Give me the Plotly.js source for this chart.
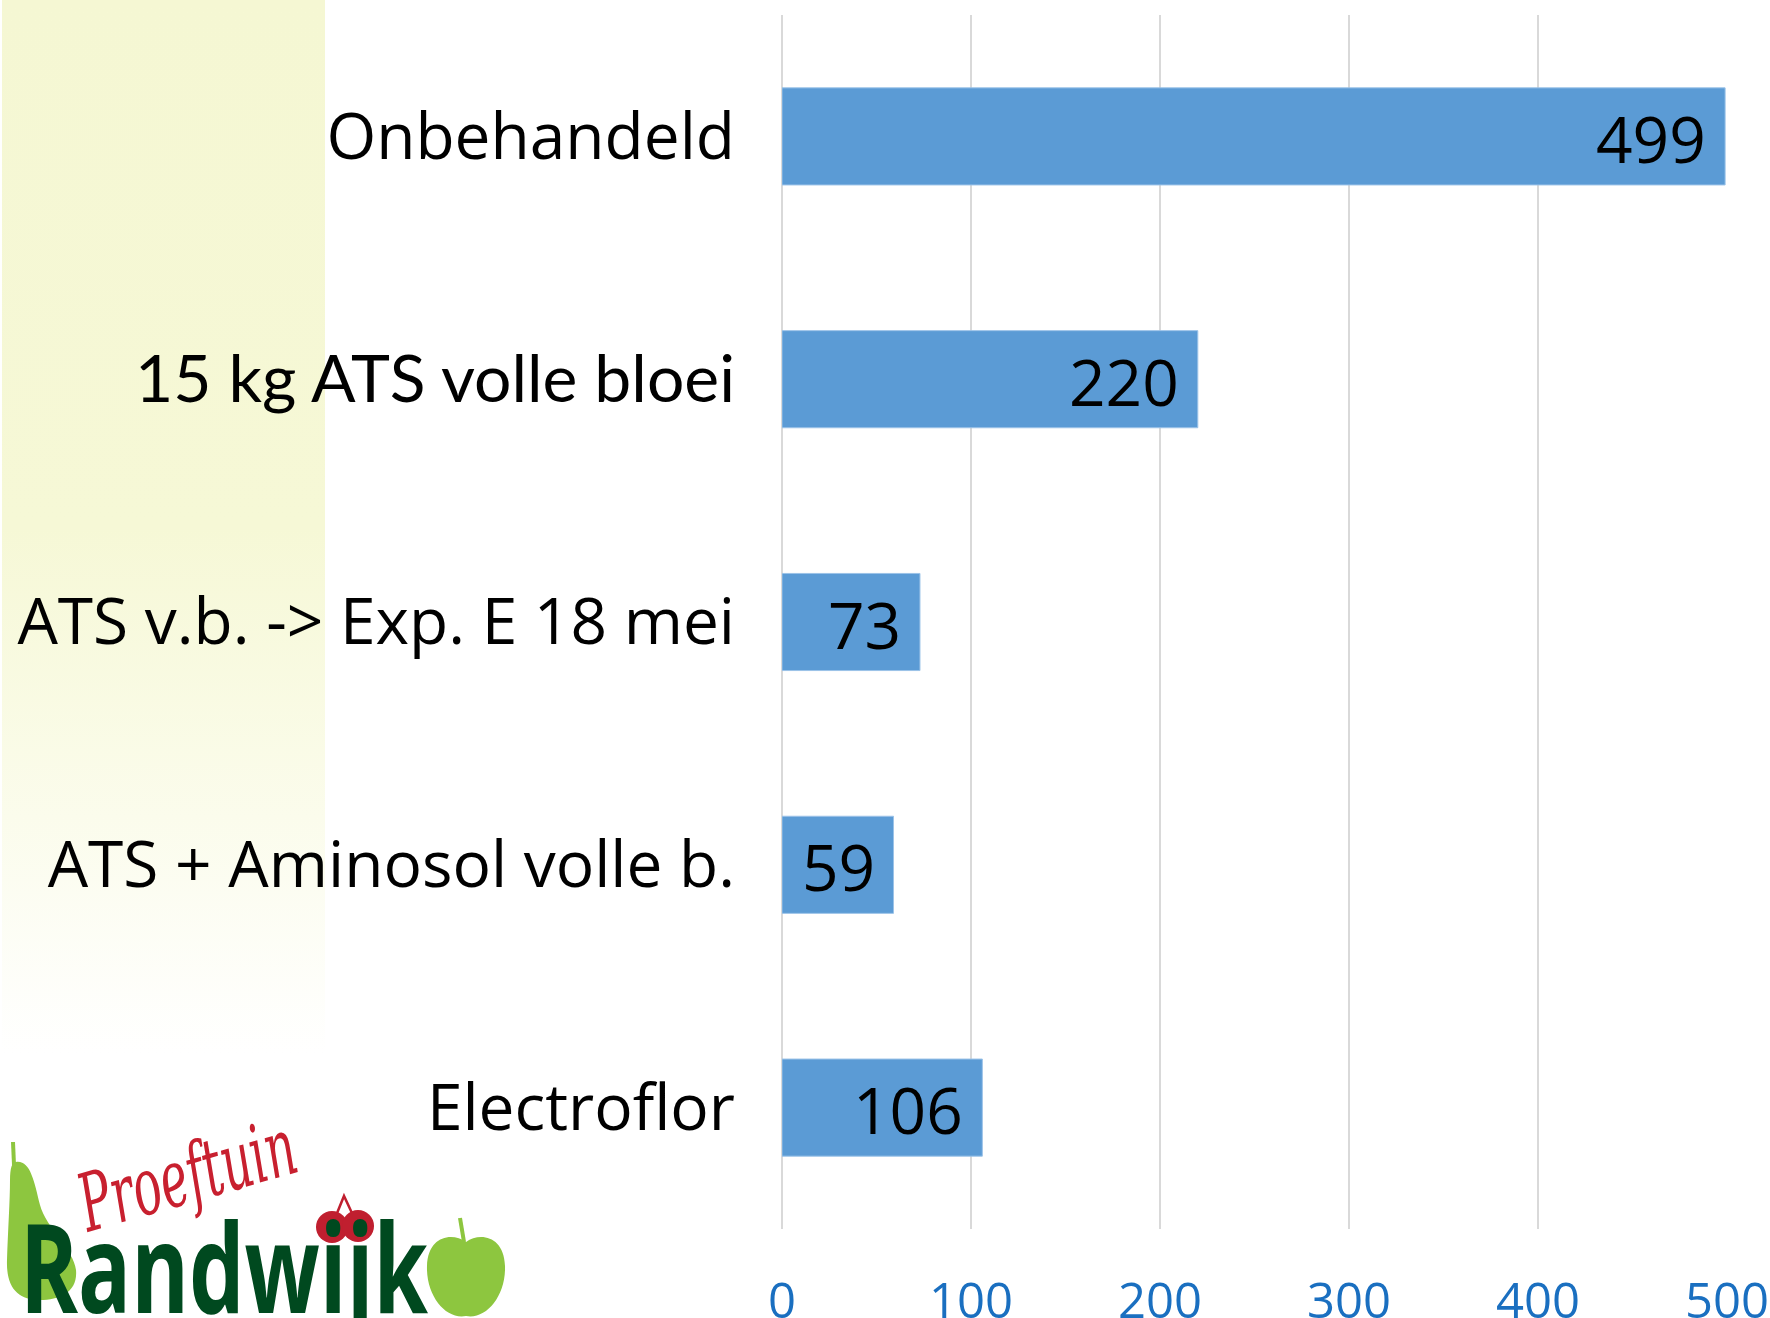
<!DOCTYPE html>
<html>
<head>
<meta charset="utf-8">
<script src="https://cdn.plot.ly/plotly-3.0.1.min.js"></script>
<style>
  html, body { margin:0; padding:0; background:#ffffff; }
  #wrap { position:relative; width:1770px; height:1318px; overflow:hidden; }
  #bg { position:absolute; left:2px; top:0; width:323px; height:1318px;
        background:linear-gradient(to bottom, #f5f7d3 0%, #f6f8d6 40%, #fbfcec 62%, #ffffff 80%, #ffffff 100%); }
  #chart { position:absolute; left:0; top:0; width:1770px; height:1318px; }
  #logo { position:absolute; left:0; top:1120px; width:520px; height:198px; }
</style>
</head>
<body>
<div id="wrap">
  <div id="bg"></div>
  <div id="chart"></div>
  <svg id="logo" width="520" height="198" viewBox="0 0 520 198" xmlns="http://www.w3.org/2000/svg">
    <!-- pear -->
    <path d="M13 22 L14 45" stroke="#8dc63f" stroke-width="4" fill="none"/>
    <path d="M16 42 C30 40 34 60 40 85 C46 108 74 130 76 150 C78 172 60 180 40 180 C18 180 6 168 7 140 C8 110 10 80 10 60 C10 48 12 42 16 42 Z" fill="#8dc63f"/>
    <!-- apple -->
    <path d="M460 98 L464 122" stroke="#8dc63f" stroke-width="4" fill="none"/>
    <path d="M466 122 C480 112 504 116 505 146 C506 176 486 200 466 196 C446 200 426 176 427 146 C428 116 452 112 466 122 Z" fill="#8dc63f"/>
    <!-- cherries -->
    <path d="M331 108 L344 76 L358 106" stroke="#c01f2f" stroke-width="2.5" fill="none"/>
    <circle cx="332" cy="107" r="16" fill="#c01f2f"/>
    <circle cx="358" cy="106" r="16" fill="#c01f2f"/>
    <!-- text -->
    <text x="88" y="112" transform="rotate(-16 88 112)" font-family="DejaVu Serif" font-style="italic" font-size="80" fill="#c8202f" textLength="222" lengthAdjust="spacingAndGlyphs">Proeftuin</text>
    <text x="20" y="193" font-family="Open Sans" font-weight="bold" font-size="124" fill="#00491f" textLength="408" lengthAdjust="spacingAndGlyphs">Randwijk</text>
  </svg>
</div>
<script>
// ---- data ----
const categories = ["Onbehandeld", "15 kg ATS volle bloei", "ATS v.b. -> Exp. E 18 mei", "ATS + Aminosol volle b.", "Electroflor"];
const values = [499, 220, 73, 59, 106];
const tickVals = [0, 100, 200, 300, 400, 500];
const tickText = ["0", "100", "200", "300", "400", "500"];

const catLabels = categories.map(c => c === "15 kg ATS volle bloei"
  ? '<span style="font-family:Lato;font-size:66px">' + c + '</span>' : c);

const trace = {
  type: 'bar',
  orientation: 'h',
  x: values,
  y: categories,
  marker: { color: '#5b9bd5', line: { color: '#9cc3e8', width: 1 } },
  hoverinfo: 'none'
};

const annotations = values.map((v, i) => ({
  x: v, y: categories[i], xref: 'x', yref: 'y',
  text: String(v), showarrow: false,
  xanchor: 'right', yanchor: 'middle', xshift: -17, yshift: -2,
  font: { family: 'Open Sans', size: 64, color: '#000000' }
}));

const layout = {
  width: 1770, height: 1318,
  margin: { l: 782, r: 43, t: 15, b: 89, pad: 0 },
  paper_bgcolor: 'rgba(0,0,0,0)',
  plot_bgcolor: 'rgba(0,0,0,0)',
  showlegend: false,
  bargap: 0.6,
  xaxis: {
    range: [0, 500],
    tickvals: tickVals, ticktext: tickText,
    showgrid: true, gridcolor: '#d9d9d9', gridwidth: 2,
    zeroline: true, zerolinecolor: '#d9d9d9', zerolinewidth: 2,
    showline: false, ticks: '',
    ticklabelstandoff: 39,
    tickfont: { family: 'Open Sans', size: 49, color: '#1a6fc0' },
    fixedrange: true
  },
  yaxis: {
    type: 'category',
    categoryorder: 'array', categoryarray: categories,
    tickvals: categories, ticktext: catLabels,
    autorange: 'reversed',
    showgrid: false, zeroline: false, showline: false, ticks: '',
    ticklabelstandoff: 46,
    tickfont: { family: 'Open Sans', size: 64, color: '#000000' },
    fixedrange: true
  },
  annotations: annotations
};

Plotly.newPlot('chart', [trace], layout, { displayModeBar: false, staticPlot: true });
</script>
</body>
</html>
